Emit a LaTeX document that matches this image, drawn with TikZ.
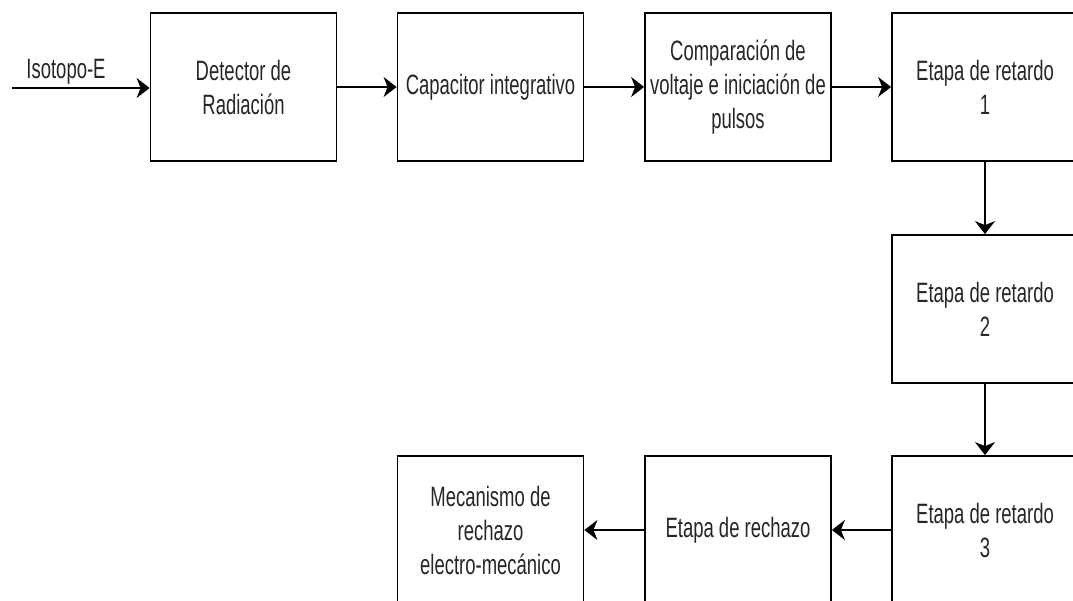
\documentclass[tikz,border=0pt]{standalone}
\usepackage{fontspec}
\newfontfamily\diafont{Liberation Sans}[FakeStretch=0.66]
\usetikzlibrary{arrows.meta}

\tikzset{
  stage/.style={draw, line width=1.8pt, minimum width=186pt, minimum height=148pt,
    inner sep=0pt, align=center, text=black!85, font=\diafont\fontsize{28}{34}\selectfont},
  flow/.style={line width=1.7pt, -{Stealth[length=13pt, width=20pt, inset=4pt]}},
  tag/.style={text=black!85, inner sep=0pt, font=\diafont\fontsize{28}{34}\selectfont}
}

\begin{document}
\begin{tikzpicture}[x=1pt, y=1pt]
        % Define Variables
        \def\colA{243.5}
        \def\colB{490.5}
        \def\colC{738}
        \def\colD{985}
        \def\rowA{-87}
        \def\rowB{-309}
        \def\rowC{-530}

        \clip (0,0) rectangle (1073,-600);

        % Input
        \coordinate (src) at (12,-88);
        \node[tag] (iso) at (66,-72) {Isotopo-E};

        % Top Row
        \node[stage] (det) at (\colA,\rowA) {Detector de\\Radiación};
        \node[stage] (cap) at (\colB,\rowA) {Capacitor integrativo};
        \node[stage] (cmp) at (\colC,\rowA) {Comparación de\\voltaje e iniciación de\\pulsos};
        \node[stage] (ret1) at (\colD,\rowA) {Etapa de retardo\\1};

        % Right Column
        \node[stage] (ret2) at (\colD,\rowB) {Etapa de retardo\\2};
        \node[stage] (ret3) at (\colD,\rowC) {Etapa de retardo\\3};

        % Bottom Row
        \node[stage] (rch) at (\colC,\rowC) {Etapa de rechazo};
        \node[stage] (mec) at (\colB,\rowC) {Mecanismo de\\rechazo\\electro-mecánico};

        % Connectors
        \draw[flow] (src) -- (det.west |- src);
        \draw[flow] (det) -- (cap);
        \draw[flow] (cap) -- (cmp);
        \draw[flow] (cmp) -- (ret1);
        \draw[flow] (ret1) -- (ret2);
        \draw[flow] (ret2) -- (ret3);
        \draw[flow] (ret3) -- (rch);
        \draw[flow] (rch) -- (mec);
\end{tikzpicture}
\end{document}
